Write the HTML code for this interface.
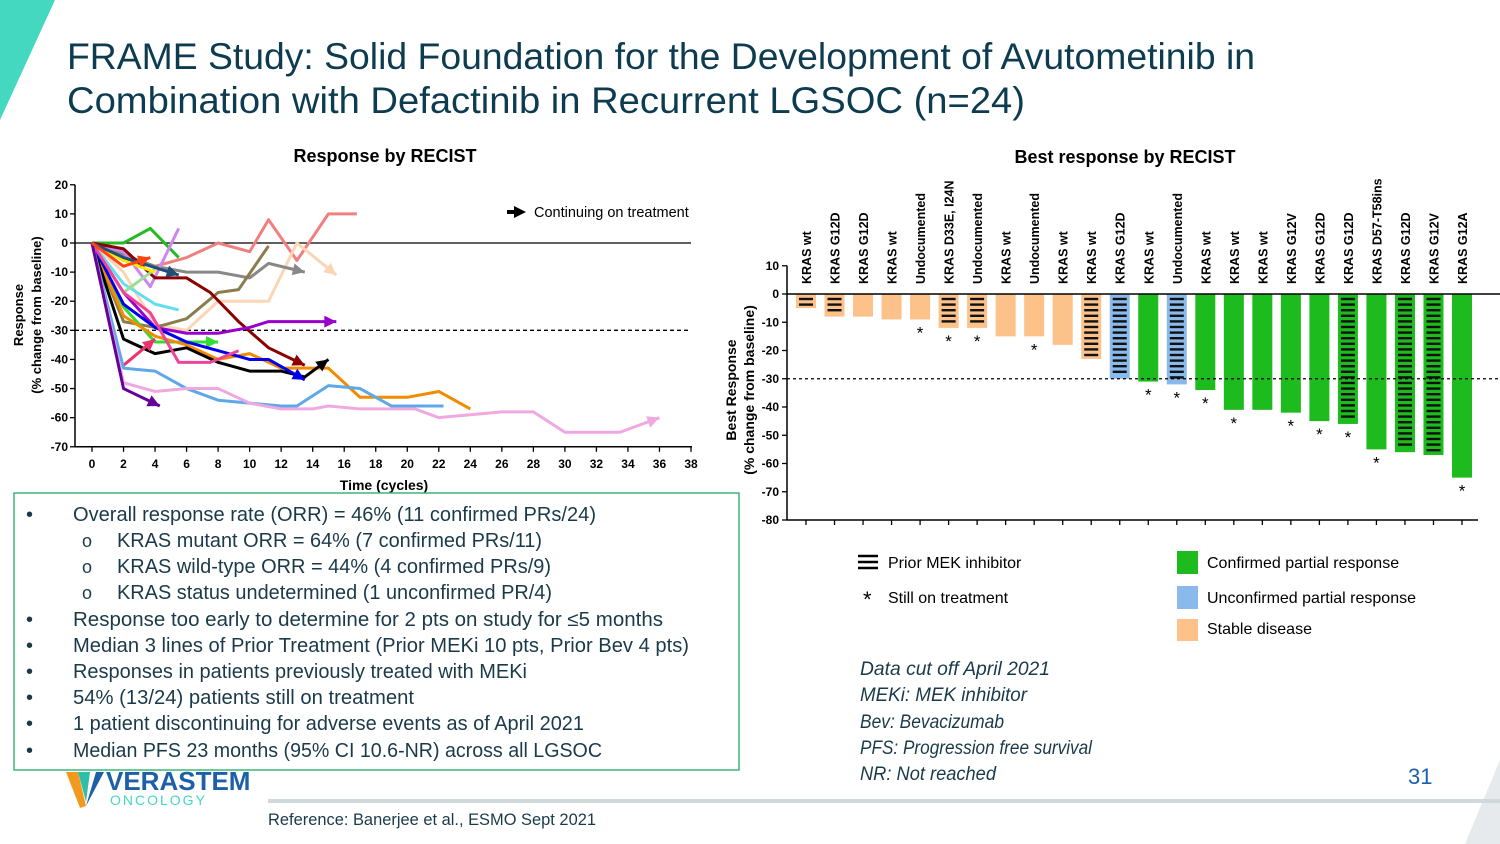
<!DOCTYPE html>
<html><head><meta charset="utf-8"><style>
body{margin:0;background:#fff}
svg{display:block;font-family:"Liberation Sans",sans-serif}
</style></head><body>
<svg id="s" width="1500" height="844" viewBox="0 0 1500 844" xmlns="http://www.w3.org/2000/svg">
<polygon points="0,0 55,0 0,120" fill="#44d8c0"/>
<polygon points="1500,760 1500,844 1465,844" fill="#e6eaec"/>
<g fill="#0d3b50" font-size="37">
<text x="67" y="69" textLength="1188" lengthAdjust="spacingAndGlyphs">FRAME Study: Solid Foundation for the Development of Avutometinib in</text>
<text x="67" y="113" textLength="958" lengthAdjust="spacingAndGlyphs">Combination with Defactinib in Recurrent LGSOC (n=24)</text>
</g>
<text x="385" y="162" text-anchor="middle" font-size="18" font-weight="bold">Response by RECIST</text>
<text x="1125" y="163" text-anchor="middle" font-size="18" font-weight="bold">Best response by RECIST</text>
<g id="spider"></g>
<g id="water"></g>
<rect x="14" y="493" width="725" height="277" fill="none" stroke="#3cb878" stroke-width="1.5"/>
<g font-size="20" fill="#1a3a4a">
<text x="26" y="521">•</text><text x="73" y="521" textLength="523" lengthAdjust="spacingAndGlyphs">Overall response rate (ORR) = 46% (11 confirmed PRs/24)</text>
<text x="82" y="547" font-size="18">o</text><text x="117" y="547" textLength="425" lengthAdjust="spacingAndGlyphs">KRAS mutant ORR = 64% (7 confirmed PRs/11)</text>
<text x="82" y="573" font-size="18">o</text><text x="117" y="573" textLength="434" lengthAdjust="spacingAndGlyphs">KRAS wild-type ORR = 44% (4 confirmed PRs/9)</text>
<text x="82" y="599" font-size="18">o</text><text x="117" y="599" textLength="435" lengthAdjust="spacingAndGlyphs">KRAS status undetermined (1 unconfirmed PR/4)</text>
<text x="26" y="626">•</text><text x="73" y="626" textLength="590" lengthAdjust="spacingAndGlyphs">Response too early to determine for 2 pts on study for ≤5 months</text>
<text x="26" y="652">•</text><text x="73" y="652" textLength="616" lengthAdjust="spacingAndGlyphs">Median 3 lines of Prior Treatment (Prior MEKi 10 pts, Prior Bev 4 pts)</text>
<text x="26" y="678">•</text><text x="73" y="678" textLength="454" lengthAdjust="spacingAndGlyphs">Responses in patients previously treated with MEKi</text>
<text x="26" y="704">•</text><text x="73" y="704" textLength="341" lengthAdjust="spacingAndGlyphs">54% (13/24) patients still on treatment</text>
<text x="26" y="730">•</text><text x="73" y="730" textLength="511" lengthAdjust="spacingAndGlyphs">1 patient discontinuing for adverse events as of April 2021</text>
<text x="26" y="757">•</text><text x="73" y="757" textLength="529" lengthAdjust="spacingAndGlyphs">Median PFS 23 months (95% CI 10.6-NR) across all LGSOC</text>
</g>
<g>
<polygon points="66,772 78,772 86,806 80,808" fill="#f39a1e"/>
<polygon points="78,772 90,772 86,802" fill="#2fbfa9"/>
<polygon points="96,772 104,772 86,806" fill="#1d5fa8"/>
<text x="106" y="790" font-size="26" font-weight="bold" fill="#1d5fa8">VERASTEM</text>
<text x="110" y="805" font-size="14" fill="#44d8c0" letter-spacing="2">ONCOLOGY</text>
</g>
<rect x="268" y="799" width="1232" height="4" fill="#d0d8dc"/>
<text x="268" y="825" font-size="17" fill="#1a3a4a" textLength="328" lengthAdjust="spacingAndGlyphs">Reference: Banerjee et al., ESMO Sept 2021</text>
<text x="1408" y="784" font-size="22" fill="#1d5fa8">31</text>
<g font-size="19" font-style="italic" fill="#1a3a4a">
<text x="860" y="675" textLength="190" lengthAdjust="spacingAndGlyphs">Data cut off April 2021</text>
<text x="860" y="701" textLength="167" lengthAdjust="spacingAndGlyphs">MEKi: MEK inhibitor</text>
<text x="860" y="728" textLength="144" lengthAdjust="spacingAndGlyphs">Bev: Bevacizumab</text>
<text x="860" y="754" textLength="232" lengthAdjust="spacingAndGlyphs">PFS: Progression free survival</text>
<text x="860" y="780" textLength="136" lengthAdjust="spacingAndGlyphs">NR: Not reached</text>
</g>
<g font-size="16">
<g><path d="M858 556h20M858 562h20M858 568h20" stroke="#000" stroke-width="2.5"/><text x="888" y="568">Prior MEK inhibitor</text></g>
<g><text x="863" y="607" font-size="22">*</text><text x="888" y="603">Still on treatment</text></g>
<g><rect x="1177" y="551" width="21" height="23" fill="#1dbb1d"/><text x="1207" y="568">Confirmed partial response</text></g>
<g><rect x="1177" y="586" width="21" height="23" fill="#8ab9ec"/><text x="1207" y="603">Unconfirmed partial response</text></g>
<g><rect x="1177" y="619" width="21" height="22" fill="#fcc28a"/><text x="1207" y="634">Stable disease</text></g>
</g>
</svg>
<script>
// ---- Spider data ----
const spiderColors = ["#f08080","#fcd5b5","#888888","#22bb22","#cc88ee","#8b7d4b","#8b0000","#9900cc","#33dd33","#66ddee","#99dd99","#ffe800","#f28b00","#000000","#0000ee","#ee4499","#e8336e","#5fa8e8","#f0a8e0","#660099","#1f4e79","#ff4411"];
const spiderX = [
 [0,2,4,6,8,10,11.2,13,15,16.8],
 [0,2,4,6,8,10,11.2,13,15.5],
 [0,2,4,6,8,10,11.2,13.5],
 [0,2,3.7,5.5],
 [0,2,3.7,5.5],
 [0,2,4,6,8,9.3,11.2],
 [0,2,4,6,7.5,9.3,11.2,13.5],
 [0,2,4,6,8,10,11.2,15.5],
 [0,2,4,6,8],
 [0,2,4,5.5],
 [0,2,4],
 [0,2,4],
 [0,2,4,6,8,10,12,15,17,20,22,24],
 [0,2,4,6,8,10,12,13.5,15],
 [0,2,4,6,8,10,11.2,13.5],
 [0,2,3.7,5.5,7.5,9.3],
 [2,4],
 [0,2,4,6,8,10,12,13,15,17,19,22.3],
 [0,2,4,6,8,10,12,14,15,17,20.5,22,26,28,30,33.5,36],
 [0,2,4.3],
 [0,2,5.5],
 [0,2,3.7]
];
const spiderY = [
 [0,-6,-8,-5,0,-3,8,-6,10,10],
 [0,-10,-28,-30,-20,-20,-20,0,-11],
 [0,-4,-8,-10,-10,-12,-7,-10],
 [0,0,5,-5],
 [0,-3,-15,5],
 [0,-27,-29,-26,-17,-16,-1],
 [0,-2,-12,-12,-17,-27,-36,-42],
 [0,-17,-29,-31,-31,-29,-27,-27],
 [0,-22,-34,-34,-34],
 [0,-14,-21,-23],
 [0,-17,-9],
 [0,-6,-10],
 [0,-25,-32,-35,-40,-38,-43,-43,-53,-53,-51,-57],
 [0,-33,-38,-36,-41,-44,-44,-46,-40],
 [0,-21,-29,-34,-37,-40,-40,-47],
 [0,-17,-24,-41,-41,-37],
 [-42,-33],
 [0,-43,-44,-50,-54,-55,-56,-56,-49,-50,-56,-56],
 [0,-48,-51,-50,-50,-55,-57,-57,-56,-57,-57,-60,-58,-58,-65,-65,-60],
 [0,-50,-56],
 [0,-5,-11],
 [0,-8,-5]
];
const spiderArrow = [0,1,1,0,0,0,1,1,1,0,0,0,0,1,1,0,1,0,1,1,1,1];
const xTicks = [0,2,4,6,8,10,12,14,16,18,20,22,24,26,28,30,32,34,36,38];
const yTicks = [20,10,0,-10,-20,-30,-40,-50,-60,-70];

// ---- Waterfall data ----
const wLabels = ["KRAS wt","KRAS G12D","KRAS G12D","KRAS wt","Undocumented","KRAS D33E, I24N","Undocumented","KRAS wt","Undocumented","KRAS wt","KRAS wt","KRAS G12D","KRAS wt","Undocumented","KRAS wt","KRAS wt","KRAS wt","KRAS G12V","KRAS G12D","KRAS G12D","KRAS D57-T58ins","KRAS G12D","KRAS G12V","KRAS G12A"];
const wValues = [-5,-8,-8,-9,-9,-12,-12,-15,-15,-18,-23,-30,-31,-32,-34,-41,-41,-42,-45,-46,-55,-56,-57,-65];
const wResp = ["SD","SD","SD","SD","SD","SD","SD","SD","SD","SD","SD","UPR","CPR","UPR","CPR","CPR","CPR","CPR","CPR","CPR","CPR","CPR","CPR","CPR"];
const wMek = [1,1,0,0,0,1,1,0,0,0,1,1,0,1,0,0,0,0,0,1,0,1,1,0];
const wStill = [0,0,0,0,1,1,1,0,1,0,0,0,1,1,1,1,0,1,1,1,1,0,0,1];
const wTicks = [10,0,-10,-20,-30,-40,-50,-60,-70,-80];

const NS="http://www.w3.org/2000/svg";
function mk(parent,tag,attrs,txt){const e=document.createElementNS(NS,tag);for(const k in attrs)e.setAttribute(k,attrs[k]);if(txt!==undefined)e.textContent=txt;parent.appendChild(e);return e;}

// Spider
const sp=document.getElementById('spider');
const sx=v=>92+v*(691-92)/38;
const sy=v=>243-v*(447-185)/90;
mk(sp,'line',{x1:75,y1:sy(0),x2:691,y2:sy(0),stroke:'#000','stroke-width':1.3});
mk(sp,'line',{x1:75,y1:sy(-30),x2:691,y2:sy(-30),stroke:'#000','stroke-width':1.3,'stroke-dasharray':'4,3'});
mk(sp,'line',{x1:75,y1:sy(20),x2:75,y2:sy(-70),stroke:'#000','stroke-width':1.5});
mk(sp,'line',{x1:75,y1:sy(-70),x2:692,y2:sy(-70),stroke:'#000','stroke-width':1.5});
yTicks.forEach(t=>{
 mk(sp,'line',{x1:70,y1:sy(t),x2:75,y2:sy(t),stroke:'#000','stroke-width':1.3});
 const lb=mk(sp,'text',{x:68,y:sy(t)+4,'text-anchor':'end','font-size':12,'font-weight':'bold'},t);
 
 
});
xTicks.forEach(t=>{
 mk(sp,'line',{x1:sx(t),y1:sy(-70),x2:sx(t),y2:sy(-70)+5,stroke:'#000','stroke-width':1.3});
 const lb=mk(sp,'text',{x:sx(t),y:468,'text-anchor':'middle','font-size':12,'font-weight':'bold'},t);
 
 
});
const xt=mk(sp,'text',{x:384,y:490,'text-anchor':'middle','font-size':14,'font-weight':'bold'},'Time (cycles)');


const yt=mk(sp,'text',{transform:'translate(23,315) rotate(-90)','text-anchor':'middle','font-size':13,'font-weight':'bold'},'Response');


const yt2=mk(sp,'text',{transform:'translate(41,315) rotate(-90)','text-anchor':'middle','font-size':13,'font-weight':'bold'},'(% change from baseline)');


function arrowHead(g,x1,y1,x2,y2,c){
 const a=Math.atan2(y2-y1,x2-x1),L=12,W=6;
 const p=[[x2,y2],[x2-L*Math.cos(a)+W*Math.sin(a),y2-L*Math.sin(a)-W*Math.cos(a)],[x2-L*Math.cos(a)-W*Math.sin(a),y2-L*Math.sin(a)+W*Math.cos(a)]];
 mk(g,'polygon',{points:p.map(q=>q.join(',')).join(' '),fill:c});
}
spiderX.forEach((xs,i)=>{
 const g=mk(sp,'g',{});
 
 
 const pts=xs.map((x,j)=>sx(x)+','+sy(spiderY[i][j])).join(' ');
 mk(g,'polyline',{points:pts,fill:'none',stroke:spiderColors[i],'stroke-width':3,'stroke-linejoin':'round'});
 if(spiderArrow[i]){const n=xs.length;arrowHead(g,sx(xs[n-2]),sy(spiderY[i][n-2]),sx(xs[n-1]),sy(spiderY[i][n-1]),spiderColors[i]);}
});
const lg=mk(sp,'g',{});


mk(lg,'line',{x1:507,y1:212,x2:516,y2:212,stroke:'#000','stroke-width':4});
arrowHead(lg,507,212,526,212,'#000');
mk(lg,'text',{x:534,y:217,'font-size':14.5},'Continuing on treatment');

// Waterfall
const w=document.getElementById('water');
const wy=v=>294-v*(520-294)/80;
const wx=i=>806+i*(1462-806)/23;
const fill={SD:'#fcc28a',UPR:'#8ab9ec',CPR:'#1dbb1d'};
wValues.forEach((v,i)=>{
 const g=mk(w,'g',{});
 
 
 const x=wx(i)-10,top=wy(0),bot=wy(v);
 mk(g,'rect',{x:x,y:top,width:20,height:bot-top,fill:fill[wResp[i]]});
 if(wMek[i]){for(let y=top+5;y<bot-2;y+=5.6)mk(g,'line',{x1:x+3,y1:y,x2:x+17,y2:y,stroke:'#111','stroke-width':2.4});}
 if(wStill[i])mk(g,'text',{x:wx(i),y:bot+19,'text-anchor':'middle','font-size':17},'*');
 const lb=mk(w,'text',{transform:'translate('+(wx(i)+5)+',284) rotate(-90)','font-size':12.5,'font-weight':'bold'},wLabels[i]);
 
 
});
mk(w,'line',{x1:787,y1:wy(0),x2:1500,y2:wy(0),stroke:'#000','stroke-width':1.5});
mk(w,'line',{x1:787,y1:wy(-30),x2:1500,y2:wy(-30),stroke:'#000','stroke-width':1.2,'stroke-dasharray':'3,3'});
mk(w,'line',{x1:787,y1:wy(10),x2:787,y2:wy(-80),stroke:'#000','stroke-width':1.5});
mk(w,'line',{x1:787,y1:wy(-80),x2:1478,y2:wy(-80),stroke:'#000','stroke-width':1.5});
wTicks.forEach(t=>{
 mk(w,'line',{x1:782,y1:wy(t),x2:787,y2:wy(t),stroke:'#000','stroke-width':1.3});
 const lb=mk(w,'text',{x:779,y:wy(t)+4,'text-anchor':'end','font-size':12,'font-weight':'bold'},t);
 
 
});
wValues.forEach((v,i)=>{mk(w,'line',{x1:wx(i),y1:wy(-80),x2:wx(i),y2:wy(-80)+5,stroke:'#000','stroke-width':1.3});});
const wt1=mk(w,'text',{transform:'translate(736,390) rotate(-90)','text-anchor':'middle','font-size':14,'font-weight':'bold'},'Best  Response');


const wt2=mk(w,'text',{transform:'translate(754,390) rotate(-90)','text-anchor':'middle','font-size':14,'font-weight':'bold'},'(% change from baseline)');


</script>
</body></html>
